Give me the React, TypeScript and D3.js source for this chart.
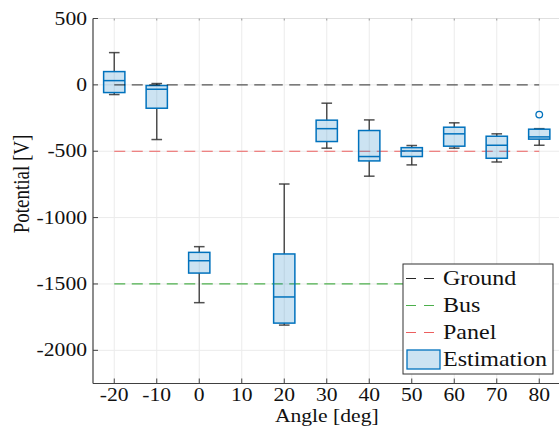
import React from "react";
import * as d3 from "d3";

const angles = [-20, -10, 0, 20, 30, 40, 50, 60, 70, 80];
const whiskerHigh = [243, 10, -1219, -747, -138, -264, -457, -286, -369, -330];
const q3 = [100, -5, -1262, -1274, -266, -344, -473, -319, -387, -334];
const medians = [32, -33, -1325, -1598, -330, -540, -498, -369, -455, -392];
const q1 = [-58, -176, -1418, -1795, -427, -573, -540, -462, -553, -409];
const whiskerLow = [-73, -412, -1641, -1810, -477, -688, -603, -477, -581, -455];
const outlierAngles = [80];
const outlierValues = [-224];

const xTicks = [-20, -10, 0, 10, 20, 30, 40, 50, 60, 70, 80];
const yTicks = [500, 0, -500, -1000, -1500, -2000];

const refNames = ["Ground", "Bus", "Panel"];
const refValues = [0, -1500, -500];
const refColors = ["#000000", "#4caf4c", "#ec5f5f"];
const refOpacity = [0.65, 1, 1];

const W = 559;
const H = 441;
const FONT = "'Liberation Serif', 'Times New Roman', serif";
const SX = 1.2;

export default function App() {
  const x = d3.scaleLinear().domain([-25, 85]).range([93, 560.5]);
  const y = d3.scaleLinear().domain([-2250, 500]).range([383.5, 18.5]);
  const boxW = x(2.5) - x(0);
  const capW = x(1.25) - x(0);
  const blue = "#0072BD";
  const axisColor = "#404040";
  const gridColor = "#ebebeb";
  const [x0, x1] = x.range();
  const [yb, yt] = y.range();

  const legendX = 403;
  const legendY = 264;
  const rowYs = [278.5, 305.5, 332.5, 359.5];

  return (
    <div style={{ position: "fixed", left: 0, top: 0 }}>
      <svg width={W} height={H} style={{ display: "block", background: "#fff" }}>
        {xTicks.map((t) => (
          <line key={"gx" + t} x1={x(t)} x2={x(t)} y1={yt} y2={yb} stroke={gridColor} strokeWidth={1} />
        ))}
        {yTicks.map((t) => (
          <line key={"gy" + t} x1={x0} x2={x1} y1={y(t)} y2={y(t)} stroke={gridColor} strokeWidth={1} />
        ))}
        {refValues.map((v, i) =>
          i === 0 ? null : (
            <line
              key={"ref" + i}
              x1={x(-20)}
              x2={x(80)}
              y1={y(v)}
              y2={y(v)}
              stroke={refColors[i]}
              strokeOpacity={refOpacity[i]}
              strokeWidth={1.2}
              strokeDasharray="11,6.5"
            />
          )
        )}
        {angles.map((a, i) => {
          const cx = x(a);
          return (
            <g key={"box" + a}>
              <line x1={cx} x2={cx} y1={y(q3[i])} y2={y(whiskerHigh[i])} stroke="#333" strokeOpacity={0.85} strokeWidth={1.5} />
              <line x1={cx} x2={cx} y1={y(q1[i])} y2={y(whiskerLow[i])} stroke="#333" strokeOpacity={0.85} strokeWidth={1.5} />
              <line x1={cx - capW} x2={cx + capW} y1={y(whiskerHigh[i])} y2={y(whiskerHigh[i])} stroke="#333" strokeOpacity={0.85} strokeWidth={1.5} />
              <line x1={cx - capW} x2={cx + capW} y1={y(whiskerLow[i])} y2={y(whiskerLow[i])} stroke="#333" strokeOpacity={0.85} strokeWidth={1.5} />
              <rect
                x={cx - boxW}
                y={y(q3[i])}
                width={2 * boxW}
                height={y(q1[i]) - y(q3[i])}
                fill={blue}
                fillOpacity={0.2}
                stroke={blue}
                strokeWidth={1.5}
              />
              <line x1={cx - boxW} x2={cx + boxW} y1={y(medians[i])} y2={y(medians[i])} stroke={blue} strokeWidth={1.5} />
            </g>
          );
        })}
        {outlierAngles.map((a, i) => (
          <circle key={"out" + i} cx={x(a)} cy={y(outlierValues[i])} r={3.3} fill="none" stroke={blue} strokeWidth={1.3} />
        ))}
        <line
          x1={x(-20)}
          x2={x(80)}
          y1={y(refValues[0])}
          y2={y(refValues[0])}
          stroke={refColors[0]}
          strokeOpacity={refOpacity[0]}
          strokeWidth={1.2}
          strokeDasharray="11,6.5"
        />
        <line x1={x0} x2={x1} y1={yt} y2={yt} stroke="#e0e0e0" strokeWidth={1} />
        <line x1={x0} x2={x0} y1={yt} y2={yb} stroke={axisColor} strokeWidth={1.2} />
        <line x1={x0} x2={x1} y1={yb} y2={yb} stroke={axisColor} strokeWidth={1.2} />
        {xTicks.map((t) => (
          <g key={"xt" + t}>
            <line x1={x(t)} x2={x(t)} y1={yb} y2={yb - 5} stroke={axisColor} strokeWidth={1} />
            <line x1={x(t)} x2={x(t)} y1={yt} y2={yt + 2} stroke="#999" strokeWidth={1} />
            <text
              transform={`translate(${x(t)},${401}) scale(${SX},1)`}
              textAnchor="middle"
              fontFamily={FONT}
              fontSize={18}
              fill="#111"
            >
              {t}
            </text>
          </g>
        ))}
        {yTicks.map((t) => (
          <g key={"yt" + t}>
            <line x1={x0} x2={x0 + 5} y1={y(t)} y2={y(t)} stroke={axisColor} strokeWidth={1} />
            <text
              transform={`translate(${87},${y(t) + 6}) scale(${SX},1)`}
              textAnchor="end"
              fontFamily={FONT}
              fontSize={18}
              fill="#111"
            >
              {t}
            </text>
          </g>
        ))}
        <text
          transform={`translate(${(x0 + x1) / 2},${422}) scale(${SX},1)`}
          textAnchor="middle"
          fontFamily={FONT}
          fontSize={18}
          fill="#111"
        >
          Angle [deg]
        </text>
        <text
          transform={`translate(${29},${184}) scale(${SX},1) rotate(-90)`}
          textAnchor="middle"
          fontFamily={FONT}
          fontSize={19}
          fill="#111"
        >
          Potential [V]
        </text>
        <rect x={legendX} y={legendY} width={150} height={110} fill="#fff" stroke="#333" strokeWidth={1} />
        {refNames.map((n, i) => (
          <g key={"leg" + n}>
            <line
              x1={406}
              x2={435}
              y1={rowYs[i]}
              y2={rowYs[i]}
              stroke={refColors[i]}
              strokeOpacity={i === 0 ? 0.85 : 1}
              strokeWidth={1.2}
              strokeDasharray="10,8"
            />
            <text
              transform={`translate(${443},${rowYs[i] + 6.5}) scale(${SX},1)`}
              fontFamily={FONT}
              fontSize={20}
              fill="#111"
            >
              {n}
            </text>
          </g>
        ))}
        <rect x={407} y={rowYs[3] - 9.5} width={33} height={19} fill={blue} fillOpacity={0.2} stroke={blue} strokeWidth={1.3} />
        <text
          transform={`translate(${443},${rowYs[3] + 6.5}) scale(${SX},1)`}
          fontFamily={FONT}
          fontSize={20}
          fill="#111"
        >
          Estimation
        </text>
      </svg>
    </div>
  );
}
